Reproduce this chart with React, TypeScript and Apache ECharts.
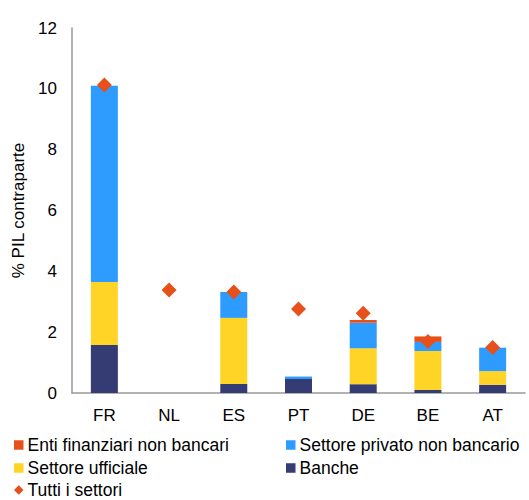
import React, { useEffect, useRef } from "react";
import * as echarts from "echarts";

const categories = ["FR", "NL", "ES", "PT", "DE", "BE", "AT"];
const banche = [1.58, 0, 0.3, 0.46, 0.29, 0.1, 0.27];
const ufficiale = [2.07, 0, 2.17, 0, 1.18, 1.28, 0.45];
const privato = [6.45, 0, 0.85, 0.08, 0.84, 0.3, 0.77];
const enti = [0, 0, 0, 0, 0.09, 0.18, 0];
const tutti = [10.13, 3.39, 3.32, 2.76, 2.62, 1.69, 1.5];

const C_ENTI = "#E8501A";
const C_PRIV = "#2E9BFF";
const C_UFF = "#FFD427";
const C_BAN = "#353B73";
const FONT = "Liberation Sans, Arial, sans-serif";

export default function App() {
  const ref = useRef<HTMLDivElement>(null);
  useEffect(() => {
    const chart = echarts.init(ref.current!, null, { renderer: "svg" });
    const legendText = { fontFamily: FONT, fontSize: 17.5, color: "#000", lineHeight: 18 };
    const mkLegend = (name: string, left: number, top: number, icon: string, size: number) => ({
      data: [name],
      left,
      top,
      icon,
      itemWidth: size,
      itemHeight: size,
      itemGap: 0,
      padding: 0,
      textStyle: { ...legendText, padding: [0, 0, 0, -1] },
      selectedMode: false,
    });
    chart.setOption({
      animation: false,
      grid: { left: 72, right: 4, top: 28, bottom: 107, containLabel: false },
      legend: [
        mkLegend("Enti finanziari non bancari", 14, 436, "rect", 9.5),
        mkLegend("Settore privato non bancario", 286, 436, "rect", 9.5),
        mkLegend("Settore ufficiale", 14, 459, "rect", 9.5),
        mkLegend("Banche", 286, 459, "rect", 9.5),
        mkLegend("Tutti i settori", 14, 481, "diamond", 9.5),
      ],
      xAxis: {
        type: "category",
        data: categories,
        axisLine: { lineStyle: { color: "#999", width: 1.5 } },
        axisTick: { show: false },
        axisLabel: { fontFamily: FONT, fontSize: 17, color: "#000", margin: 14 },
      },
      yAxis: {
        type: "value",
        min: 0,
        max: 12,
        interval: 2,
        name: "% PIL contraparte",
        nameLocation: "middle",
        nameGap: 44,
        nameTextStyle: { fontFamily: FONT, fontSize: 17, color: "#000" },
        axisLine: { show: true, lineStyle: { color: "#999", width: 1.5 } },
        axisTick: { show: false },
        splitLine: { show: false },
        axisLabel: { fontFamily: FONT, fontSize: 17, color: "#000", margin: 15 },
      },
      series: [
        { name: "Banche", type: "bar", stack: "s", data: banche, barWidth: 27, itemStyle: { color: C_BAN } },
        { name: "Settore ufficiale", type: "bar", stack: "s", data: ufficiale, barWidth: 27, itemStyle: { color: C_UFF } },
        { name: "Settore privato non bancario", type: "bar", stack: "s", data: privato, barWidth: 27, itemStyle: { color: C_PRIV } },
        { name: "Enti finanziari non bancari", type: "bar", stack: "s", data: enti, barWidth: 27, itemStyle: { color: C_ENTI } },
        { name: "Tutti i settori", type: "scatter", data: tutti, symbol: "diamond", symbolSize: 15, itemStyle: { color: C_ENTI, opacity: 1 }, z: 5 },
      ],
    });
    return () => chart.dispose();
  }, []);
  return <div ref={ref} style={{ width: 529, height: 500, position: "absolute", left: 0, top: 0 }} />;
}
